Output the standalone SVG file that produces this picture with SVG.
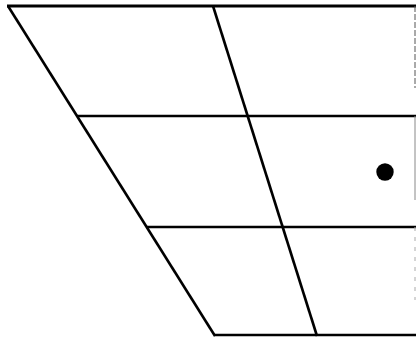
<svg xmlns="http://www.w3.org/2000/svg" width="416" height="338" viewBox="0 0 416 338">
  <style>
    .ln { stroke: #000; stroke-width: 2.6; fill: none; stroke-linecap: butt; }
    .edge { stroke: #555; stroke-width: 1; fill: none; }
  </style>
  <rect width="416" height="338" fill="#fff"/>
  <g id="grid">
    <line class="ln" x1="7" y1="6" x2="416" y2="6" style="stroke-width:3"/>
    <line class="ln" x1="77" y1="116" x2="416" y2="116"/>
    <line class="ln" x1="146" y1="227" x2="416" y2="227"/>
    <line class="ln" x1="214" y1="335" x2="416" y2="335"/>
    <line class="ln" x1="8" y1="6" x2="215" y2="336"/>
    <line class="ln" x1="213" y1="6" x2="317" y2="336"/>
  </g>
  <g id="right-edge">
    <line class="edge" x1="415" y1="6" x2="415" y2="88" stroke-dasharray="6 2"/>
    <line class="edge" x1="415" y1="116" x2="415" y2="200" style="stroke:#888"/>
    <line class="edge" x1="415" y1="227" x2="415" y2="300" stroke-dasharray="4 6" style="stroke:#aaa"/>
  </g>
  <g id="dot">
    <circle cx="385" cy="172" r="8.7" fill="#000"/>
  </g>
</svg>
